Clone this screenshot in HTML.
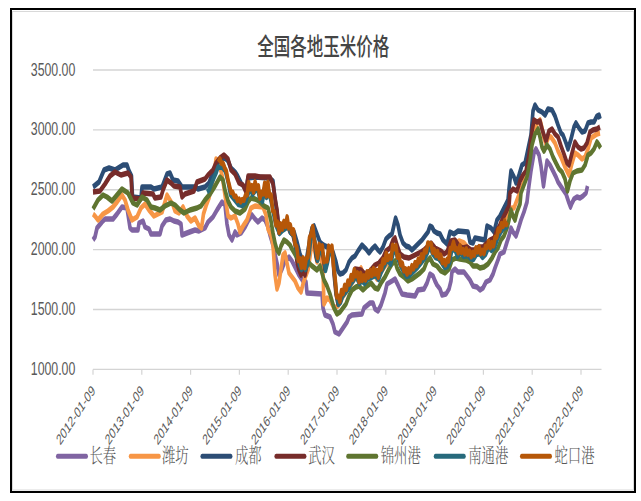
<!DOCTYPE html>
<html lang="zh-CN"><head><meta charset="utf-8"><title>全国各地玉米价格</title>
<style>
html,body{margin:0;padding:0;background:#fff;}
svg{display:block;}
text{font-family:"Liberation Sans","Noto Sans CJK SC",sans-serif;}
.lg{font-family:"Liberation Serif","Noto Serif CJK SC",serif;}
</style></head><body>
<svg width="641" height="501" viewBox="0 0 641 501">
<rect x="0" y="0" width="641" height="501" fill="#fff"/>
<rect x="12.5" y="11.5" width="621" height="478.5" fill="none" stroke="#d9d9d9" stroke-width="1"/>
<rect x="11" y="9" width="624" height="483" fill="none" stroke="#000" stroke-width="2" shape-rendering="crispEdges"/>

<line x1="93" y1="70.00" x2="601.5" y2="70.00" stroke="#d4d4d4" stroke-width="1.4"/>
<line x1="93" y1="129.88" x2="601.5" y2="129.88" stroke="#d4d4d4" stroke-width="1.4"/>
<line x1="93" y1="189.76" x2="601.5" y2="189.76" stroke="#d4d4d4" stroke-width="1.4"/>
<line x1="93" y1="249.64" x2="601.5" y2="249.64" stroke="#d4d4d4" stroke-width="1.4"/>
<line x1="93" y1="309.52" x2="601.5" y2="309.52" stroke="#d4d4d4" stroke-width="1.4"/>
<line x1="93" y1="369.40" x2="601.5" y2="369.40" stroke="#d4d4d4" stroke-width="1.4"/>
<line x1="93.00" y1="369.40" x2="93.00" y2="374.80" stroke="#d4d4d4" stroke-width="1.2"/>
<line x1="141.80" y1="369.40" x2="141.80" y2="374.80" stroke="#d4d4d4" stroke-width="1.2"/>
<line x1="190.60" y1="369.40" x2="190.60" y2="374.80" stroke="#d4d4d4" stroke-width="1.2"/>
<line x1="239.40" y1="369.40" x2="239.40" y2="374.80" stroke="#d4d4d4" stroke-width="1.2"/>
<line x1="288.20" y1="369.40" x2="288.20" y2="374.80" stroke="#d4d4d4" stroke-width="1.2"/>
<line x1="337.00" y1="369.40" x2="337.00" y2="374.80" stroke="#d4d4d4" stroke-width="1.2"/>
<line x1="385.80" y1="369.40" x2="385.80" y2="374.80" stroke="#d4d4d4" stroke-width="1.2"/>
<line x1="434.60" y1="369.40" x2="434.60" y2="374.80" stroke="#d4d4d4" stroke-width="1.2"/>
<line x1="483.40" y1="369.40" x2="483.40" y2="374.80" stroke="#d4d4d4" stroke-width="1.2"/>
<line x1="532.20" y1="369.40" x2="532.20" y2="374.80" stroke="#d4d4d4" stroke-width="1.2"/>
<line x1="581.00" y1="369.40" x2="581.00" y2="374.80" stroke="#d4d4d4" stroke-width="1.2"/>
<text transform="translate(75.3,75.60) scale(0.645,1)" font-size="19.1" text-anchor="end" fill="#595959">3500.00</text>
<text transform="translate(75.3,135.48) scale(0.645,1)" font-size="19.1" text-anchor="end" fill="#595959">3000.00</text>
<text transform="translate(75.3,195.36) scale(0.645,1)" font-size="19.1" text-anchor="end" fill="#595959">2500.00</text>
<text transform="translate(75.3,255.24) scale(0.645,1)" font-size="19.1" text-anchor="end" fill="#595959">2000.00</text>
<text transform="translate(75.3,315.12) scale(0.645,1)" font-size="19.1" text-anchor="end" fill="#595959">1500.00</text>
<text transform="translate(75.3,375.00) scale(0.645,1)" font-size="19.1" text-anchor="end" fill="#595959">1000.00</text>
<text transform="translate(95.80,391.50) scale(0.657,1) rotate(-45)" font-size="15.0" text-anchor="end" fill="#595959">2012-01-09</text>
<text transform="translate(144.60,391.50) scale(0.657,1) rotate(-45)" font-size="15.0" text-anchor="end" fill="#595959">2013-01-09</text>
<text transform="translate(193.40,391.50) scale(0.657,1) rotate(-45)" font-size="15.0" text-anchor="end" fill="#595959">2014-01-09</text>
<text transform="translate(242.20,391.50) scale(0.657,1) rotate(-45)" font-size="15.0" text-anchor="end" fill="#595959">2015-01-09</text>
<text transform="translate(291.00,391.50) scale(0.657,1) rotate(-45)" font-size="15.0" text-anchor="end" fill="#595959">2016-01-09</text>
<text transform="translate(339.80,391.50) scale(0.657,1) rotate(-45)" font-size="15.0" text-anchor="end" fill="#595959">2017-01-09</text>
<text transform="translate(388.60,391.50) scale(0.657,1) rotate(-45)" font-size="15.0" text-anchor="end" fill="#595959">2018-01-09</text>
<text transform="translate(437.40,391.50) scale(0.657,1) rotate(-45)" font-size="15.0" text-anchor="end" fill="#595959">2019-01-09</text>
<text transform="translate(486.20,391.50) scale(0.657,1) rotate(-45)" font-size="15.0" text-anchor="end" fill="#595959">2020-01-09</text>
<text transform="translate(535.00,391.50) scale(0.657,1) rotate(-45)" font-size="15.0" text-anchor="end" fill="#595959">2021-01-09</text>
<text transform="translate(583.80,391.50) scale(0.657,1) rotate(-45)" font-size="15.0" text-anchor="end" fill="#595959">2022-01-09</text>
<text transform="translate(323.2,54.7) scale(0.682,1)" font-size="24.2" font-weight="500" text-anchor="middle" fill="#454545">全国各地玉米价格</text>
<g transform="scale(0.66,1)" fill="none" stroke-width="5.5" stroke-linejoin="round" stroke-linecap="butt">
<path d="M140.9,240.0 L143.9,237.0 L147.0,228.0 L154.5,222.0 L159.1,219.0 L171.2,219.0 L177.3,214.0 L184.8,207.0 L192.4,208.0 L197.0,228.0 L200.0,230.0 L209.1,230.0 L210.6,223.0 L216.7,221.0 L219.7,227.0 L225.8,229.0 L228.8,234.0 L242.4,234.0 L245.5,226.0 L251.5,220.0 L257.6,219.0 L263.6,221.0 L269.7,222.0 L274.2,224.0 L275.8,235.0 L283.3,233.0 L295.5,230.0 L301.5,231.0 L310.6,228.0 L315.2,222.0 L322.7,217.0 L328.8,210.0 L336.4,202.0 L340.9,205.0 L343.9,224.0 L347.0,235.0 L351.5,240.0 L356.1,232.0 L359.1,235.0 L365.2,233.0 L371.2,227.0 L375.8,221.0 L381.8,215.0 L386.4,219.0 L390.9,222.0 L397.0,218.0 L401.5,220.0 L406.1,227.0 L409.1,235.0 L413.6,245.0 L416.7,254.0 L419.7,263.0 L422.7,275.0 L427.3,269.0 L431.8,261.0 L437.9,257.0 L442.4,261.0 L447.0,267.0 L453.0,275.0 L459.1,281.0 L463.6,282.0 L465.2,293.0 L487.9,294.0 L489.4,308.0 L492.4,315.0 L500.0,317.0 L504.5,324.0 L507.6,332.0 L513.6,334.0 L519.7,328.0 L525.8,322.0 L528.8,317.0 L533.3,315.0 L548.5,314.0 L551.5,308.0 L560.6,303.0 L565.2,303.0 L568.2,309.0 L572.7,311.0 L577.3,305.0 L583.3,293.0 L586.4,284.0 L593.9,281.0 L598.5,279.0 L603.0,285.0 L609.1,294.0 L616.7,295.0 L628.8,296.0 L633.3,290.0 L642.4,289.0 L647.0,283.0 L651.5,274.0 L656.1,276.0 L659.1,281.0 L662.1,285.0 L666.7,289.0 L669.7,295.0 L675.8,294.0 L680.3,289.0 L683.3,281.0 L684.8,272.0 L689.4,269.0 L693.9,272.0 L703.0,272.0 L707.6,276.0 L712.1,280.0 L716.7,286.0 L722.7,287.0 L727.3,290.0 L731.8,288.0 L736.4,282.0 L742.4,280.0 L747.0,274.0 L750.0,268.0 L754.5,260.0 L757.6,254.0 L763.6,252.0 L768.2,242.0 L771.2,236.0 L774.2,228.0 L777.3,232.0 L781.8,236.0 L784.8,230.0 L789.4,220.0 L793.9,212.0 L798.5,202.0 L800.0,193.0 L804.5,171.0 L809.1,153.0 L812.1,149.0 L816.7,155.0 L819.7,166.0 L823.5,186.0 L825.8,175.0 L828.8,161.0 L833.3,165.0 L837.9,171.0 L842.4,177.0 L845.5,182.0 L851.5,188.0 L857.6,194.0 L862.1,203.0 L864.4,207.0 L866.7,203.0 L869.7,199.0 L874.2,197.0 L878.8,198.0 L883.3,196.0 L887.9,193.0 L890.2,186.0" stroke="#8064a2"/>
<path d="M140.9,214.0 L143.9,216.0 L148.5,220.0 L156.1,214.0 L163.6,211.0 L171.2,207.0 L177.3,202.0 L184.8,195.0 L189.4,200.0 L193.9,210.0 L200.0,220.0 L207.6,217.0 L213.6,208.0 L219.7,204.0 L225.8,210.0 L233.3,216.0 L245.5,212.0 L250.0,202.0 L253.0,195.0 L257.6,200.0 L262.1,205.0 L265.2,211.0 L271.2,213.0 L277.3,207.0 L283.3,216.0 L289.4,221.0 L295.5,218.0 L301.5,226.0 L305.3,228.0 L308.3,214.0 L312.1,206.0 L316.7,198.0 L322.7,180.0 L327.3,159.0 L330.3,160.0 L336.4,175.0 L342.4,202.0 L345.5,216.0 L350.0,218.0 L356.1,216.0 L360.6,224.0 L363.6,232.0 L368.2,226.0 L374.2,220.0 L380.3,208.0 L386.4,206.0 L398.5,207.0 L403.0,215.0 L406.1,229.0 L410.6,235.0 L413.6,245.0 L415.2,261.0 L416.7,275.0 L419.7,289.0 L422.7,283.0 L425.8,269.0 L428.8,255.0 L431.8,253.0 L434.8,263.0 L437.9,273.0 L442.4,277.0 L447.0,281.0 L451.5,288.0 L456.1,292.0 L459.1,284.0 L462.1,278.0 L466.7,270.0 L471.2,250.0 L474.2,244.0 L477.3,252.0 L480.3,262.0 L483.3,256.0 L486.4,258.0 L489.4,272.0 L490.9,304.0 L495.5,298.0 L500.0,300.0 L506.1,308.0 L512.1,306.0 L518.2,298.0 L524.2,292.0 L530.3,286.0 L536.4,280.0 L542.4,272.0 L547.0,268.0 L551.5,276.0 L557.6,278.0 L563.6,276.0 L568.2,276.0 L571.2,279.0 L577.3,272.0 L583.3,266.0 L589.4,262.0 L593.9,254.0 L598.5,250.0 L603.0,258.0 L607.6,266.0 L613.6,272.0 L619.7,274.0 L625.8,270.0 L631.8,266.0 L637.9,262.0 L643.9,256.0 L648.5,250.0 L651.5,246.0 L656.1,252.0 L662.1,256.0 L668.2,260.0 L674.2,264.0 L678.8,260.0 L683.3,250.0 L689.4,244.0 L695.5,241.0 L703.0,243.0 L709.1,248.0 L715.2,254.0 L721.2,252.0 L727.3,252.0 L733.3,254.0 L739.4,246.0 L745.5,246.0 L751.5,238.0 L756.1,230.0 L759.1,222.0 L765.2,218.0 L771.2,214.0 L775.8,208.0 L778.8,208.0 L783.3,200.0 L787.9,192.0 L792.4,184.0 L797.0,176.0 L801.5,160.0 L806.1,140.0 L810.6,128.0 L815.2,122.0 L818.2,120.0 L821.2,128.0 L824.2,138.0 L827.3,144.0 L831.8,136.0 L834.8,137.0 L840.9,143.0 L845.5,151.0 L850.0,157.0 L856.1,167.0 L862.1,175.0 L866.7,163.0 L871.2,153.0 L875.8,155.0 L881.8,159.0 L886.4,157.0 L890.9,149.0 L895.5,138.0 L900.0,136.0 L904.5,134.0 L909.1,133.0" stroke="#f79646"/>
<path d="M140.9,187.0 L150.0,182.0 L157.6,170.0 L165.2,168.0 L174.2,170.0 L186.4,165.0 L192.4,165.0 L195.5,171.0 L199.2,176.0 L200.8,197.0 L213.6,198.0 L215.2,187.0 L228.8,187.0 L233.3,189.0 L245.5,187.0 L253.0,174.0 L257.6,173.0 L262.1,180.0 L269.7,181.0 L275.8,187.0 L295.5,187.0 L300.0,189.0 L310.6,187.0 L316.7,183.0 L322.7,172.0 L327.3,165.0 L333.3,160.0 L339.4,157.0 L345.5,161.0 L350.0,168.0 L356.1,172.0 L359.1,175.0 L365.2,183.0 L369.7,187.0 L372.7,190.0 L375.8,178.0 L386.4,177.0 L407.6,178.0 L413.6,181.0 L416.7,199.0 L419.7,212.0 L421.2,221.0 L424.2,229.0 L430.3,226.0 L434.8,222.0 L439.4,229.0 L445.5,232.0 L450.0,242.0 L454.5,254.0 L459.1,261.0 L463.6,262.0 L466.7,250.0 L469.7,238.0 L472.7,228.0 L475.8,226.0 L480.3,234.0 L484.8,242.0 L487.9,244.0 L492.4,246.0 L500.0,248.0 L504.5,252.0 L509.1,262.0 L512.1,271.0 L515.2,274.0 L519.7,273.0 L524.2,270.0 L528.8,262.0 L533.3,258.0 L537.9,256.0 L542.4,251.0 L548.5,245.0 L554.5,249.0 L559.1,253.0 L563.6,249.0 L568.2,246.0 L572.7,250.0 L575.8,252.0 L580.3,247.0 L584.8,239.0 L589.4,236.0 L593.9,234.0 L597.0,225.0 L599.4,218.0 L603.0,225.0 L606.1,235.0 L610.6,243.0 L615.2,246.0 L619.7,247.0 L624.2,250.0 L628.8,247.0 L634.8,243.0 L639.4,240.0 L643.9,236.0 L648.5,232.0 L651.5,226.0 L654.5,227.0 L657.6,231.0 L662.1,233.0 L666.7,234.0 L671.2,240.0 L677.3,244.0 L681.8,232.0 L687.9,234.0 L693.9,231.0 L709.1,232.0 L712.1,242.0 L716.7,243.0 L719.7,238.0 L727.3,239.0 L734.8,240.0 L737.9,226.0 L743.9,228.0 L748.5,232.0 L753.0,220.0 L757.6,216.0 L762.1,210.0 L766.7,204.0 L769.7,200.0 L771.2,189.0 L774.2,171.0 L778.8,177.0 L781.8,183.0 L786.4,175.0 L790.9,165.0 L795.5,163.0 L800.0,149.0 L804.5,135.0 L807.6,111.0 L810.6,105.0 L815.2,110.0 L821.2,112.0 L825.8,115.0 L830.3,109.0 L836.4,110.0 L840.9,116.0 L845.5,125.0 L850.0,133.0 L853.0,135.0 L857.6,143.0 L860.6,149.0 L865.2,139.0 L869.7,127.0 L872.7,123.0 L877.3,128.0 L881.8,132.0 L886.4,131.0 L890.9,123.0 L895.5,122.0 L900.0,122.0 L904.5,116.0 L907.6,115.0 L909.1,119.0" stroke="#2c4d75"/>
<path d="M140.9,192.0 L151.5,191.0 L159.1,184.0 L166.7,176.0 L174.2,172.0 L183.3,175.0 L193.9,173.0 L198.5,177.0 L200.3,198.0 L213.6,199.0 L216.7,193.0 L231.8,194.0 L234.8,198.0 L243.9,197.0 L247.0,190.0 L253.0,180.0 L259.1,183.0 L263.6,186.0 L272.7,187.0 L275.8,197.0 L280.3,194.0 L293.9,191.0 L298.5,182.0 L310.6,179.0 L315.2,175.0 L322.7,170.0 L327.3,163.0 L333.3,158.0 L339.4,155.0 L345.5,159.0 L350.0,170.0 L356.1,174.0 L362.1,183.0 L368.2,185.0 L372.7,192.0 L375.8,176.0 L386.4,176.0 L393.9,177.0 L409.1,177.0 L413.6,184.0 L416.7,198.0 L419.7,210.0 L421.2,220.0 L422.7,233.0 L427.3,230.0 L431.8,228.0 L434.8,224.0 L439.4,232.0 L443.9,235.0 L447.0,244.0 L450.0,262.0 L453.0,270.0 L456.1,275.0 L459.1,271.0 L462.1,275.0 L465.2,264.0 L468.2,250.0 L470.5,236.0 L472.7,233.0 L475.0,235.0 L476.5,242.0 L478.8,256.0 L480.3,260.0 L483.3,252.0 L486.4,248.0 L489.4,256.0 L492.4,270.0 L495.5,262.0 L498.5,252.0 L501.5,250.0 L504.5,258.0 L506.1,274.0 L509.1,294.0 L512.1,304.0 L515.2,302.0 L518.2,296.0 L522.7,292.0 L527.3,288.0 L530.3,284.0 L534.8,280.0 L537.9,269.0 L547.0,270.0 L553.0,274.0 L560.6,271.0 L568.2,265.0 L574.2,263.0 L580.3,258.0 L584.8,251.0 L590.9,248.0 L595.5,240.0 L598.5,238.0 L601.5,245.0 L606.1,254.0 L612.1,257.0 L619.7,258.0 L625.8,256.0 L631.8,254.0 L637.9,252.0 L642.4,250.0 L647.0,247.0 L653.0,243.0 L659.1,248.0 L668.2,251.0 L672.7,254.0 L677.3,252.0 L683.3,241.0 L689.4,240.0 L695.5,246.0 L701.5,248.0 L707.6,247.0 L713.6,250.0 L719.7,250.0 L725.8,247.0 L731.8,247.0 L737.9,243.0 L742.4,240.0 L748.5,238.0 L753.0,230.0 L757.6,225.0 L762.1,218.0 L766.7,212.0 L771.2,206.0 L772.7,193.0 L777.3,189.0 L783.3,191.0 L787.9,181.0 L792.4,175.0 L797.0,171.0 L801.5,155.0 L806.1,131.0 L809.1,120.0 L813.6,122.0 L818.2,121.0 L821.2,129.0 L824.2,135.0 L827.3,141.0 L831.8,131.0 L836.4,129.0 L840.9,134.0 L845.5,137.0 L850.0,146.0 L854.5,154.0 L859.1,163.0 L862.1,165.0 L866.7,153.0 L871.2,142.0 L875.8,147.0 L880.3,149.0 L884.8,148.0 L889.4,143.0 L893.9,132.0 L898.5,130.0 L904.5,129.0 L909.1,127.0" stroke="#772c2a"/>
<path d="M140.9,209.0 L148.5,200.0 L156.1,195.0 L162.1,197.0 L169.7,201.0 L177.3,195.0 L184.8,189.0 L193.9,193.0 L201.5,203.0 L207.6,205.0 L215.2,197.0 L222.7,200.0 L228.8,207.0 L234.8,208.0 L242.4,210.0 L250.0,206.0 L259.1,203.0 L265.2,205.0 L272.7,210.0 L278.8,213.0 L287.9,210.0 L298.5,208.0 L304.5,206.0 L310.6,200.0 L318.2,194.0 L325.8,186.0 L333.3,177.0 L337.9,180.0 L340.9,190.0 L345.5,201.0 L350.0,207.0 L356.1,211.0 L363.6,213.0 L371.2,209.0 L375.8,202.0 L380.3,198.0 L386.4,199.0 L392.4,201.0 L400.0,206.0 L406.1,208.0 L410.6,221.0 L413.6,233.0 L416.7,243.0 L419.7,250.0 L422.7,253.0 L425.8,246.0 L430.3,240.0 L434.8,242.0 L439.4,245.0 L442.4,249.0 L448.5,256.0 L454.5,262.0 L460.6,266.0 L466.7,262.0 L472.7,266.0 L480.3,270.0 L484.8,266.0 L490.9,280.0 L495.5,286.0 L500.0,294.0 L506.1,308.0 L510.6,314.0 L515.2,312.0 L519.7,308.0 L524.2,304.0 L528.8,296.0 L533.3,290.0 L539.4,287.0 L543.9,286.0 L550.0,290.0 L556.1,286.0 L562.1,283.0 L568.2,288.0 L572.7,289.0 L577.3,283.0 L583.3,277.0 L589.4,269.0 L593.9,264.0 L598.5,261.0 L601.5,268.0 L606.1,274.0 L612.1,277.0 L618.2,281.0 L624.2,279.0 L630.3,276.0 L636.4,273.0 L642.4,269.0 L647.0,261.0 L651.5,258.0 L656.1,264.0 L662.1,266.0 L668.2,271.0 L674.2,273.0 L680.3,269.0 L684.8,260.0 L690.9,258.0 L697.0,259.0 L706.1,260.0 L712.1,262.0 L716.7,266.0 L722.7,266.0 L727.3,268.0 L733.3,267.0 L739.4,264.0 L745.5,258.0 L750.0,252.0 L754.5,248.0 L759.1,240.0 L763.6,236.0 L768.2,228.0 L771.2,220.0 L774.2,210.0 L777.3,216.0 L780.3,220.0 L783.3,212.0 L787.9,204.0 L789.4,193.0 L793.9,185.0 L798.5,177.0 L803.0,161.0 L806.1,145.0 L810.6,134.0 L815.2,129.0 L818.2,137.0 L821.2,147.0 L824.2,151.0 L828.8,145.0 L833.3,149.0 L837.9,157.0 L842.4,163.0 L847.0,169.0 L851.5,172.0 L856.1,179.0 L859.8,191.0 L863.6,181.0 L868.2,173.0 L874.2,171.0 L881.8,170.0 L886.4,165.0 L890.9,155.0 L895.5,153.0 L900.0,149.0 L904.5,142.0 L907.6,145.0 L910.0,148.0" stroke="#5f7530"/>
<path d="M313.6,192.0 L316.7,190.0 L322.7,180.0 L327.3,173.0 L330.3,167.0 L337.1,167.5 L341.7,171.5 L346.2,183.5 L349.2,194.5 L355.3,199.5 L361.4,204.5 L367.4,205.5 L372.0,202.5 L376.5,192.5 L379.5,188.5 L382.6,194.5 L387.1,190.5 L390.2,188.5 L393.2,197.5 L397.7,201.5 L400.8,188.5 L403.8,197.5 L406.8,190.5 L409.8,198.5 L412.9,207.5 L415.9,218.5 L418.9,226.5 L423.5,233.5 L428.0,230.5 L432.6,228.5 L435.6,224.5 L440.2,232.5 L444.7,235.5 L447.7,244.5 L450.8,256.5 L453.8,264.5 L456.8,269.5 L459.8,265.5 L462.9,269.5 L465.9,264.5 L468.9,250.5 L471.2,236.5 L473.5,233.5 L475.8,235.5 L477.3,242.5 L479.5,256.5 L481.1,260.5 L484.1,252.5 L487.1,248.5 L490.2,256.5 L493.2,270.5 L496.2,262.5 L499.2,252.5 L502.3,250.5 L505.3,258.5 L506.8,274.5 L509.8,294.5 L512.9,304.5 L515.9,302.5 L518.9,296.5 L523.5,292.5 L528.0,288.5 L531.1,284.5 L535.6,280.5 L538.6,275.5 L541.7,279.5 L544.7,283.5 L547.7,280.5 L552.3,283.5 L556.8,279.5 L562.9,277.5 L568.9,275.5 L573.5,279.5 L578.0,271.5 L582.6,265.5 L587.1,259.5 L591.7,264.5 L596.2,251.5 L599.2,249.5 L602.3,257.5 L606.8,265.5 L611.4,271.5 L615.9,276.5 L620.5,275.5 L626.5,271.5 L632.6,267.5 L638.6,262.5 L643.2,258.5 L647.7,252.5 L651.4,245.5 L655.3,253.5 L659.8,257.5 L664.4,258.5 L668.9,262.5 L673.5,267.5 L678.0,266.5 L681.1,262.5 L684.1,251.5 L688.6,248.5 L693.2,256.5 L697.7,252.5 L702.3,256.5 L708.3,255.5 L712.9,258.5 L717.4,259.5 L722.0,254.5 L726.5,253.5 L731.1,257.5 L735.6,254.5 L740.2,247.5 L744.7,250.5 L749.2,247.5 L753.8,238.5 L758.3,232.5 L762.9,228.5 L768.9,226.5" stroke="#276a7c"/>
<path d="M330.8,162.2 L333.2,159.0 L335.6,163.5 L338.0,163.3 L340.5,167.8 L342.9,171.0 L345.3,179.8 L347.7,186.0 L350.2,192.6 L352.6,192.2 L355.0,196.6 L357.4,196.2 L359.8,200.6 L362.3,199.1 L364.7,201.9 L367.1,199.5 L369.5,200.3 L372.0,195.1 L374.4,195.0 L376.8,182.6 L379.2,188.9 L381.7,185.7 L384.1,192.0 L386.5,181.9 L388.9,188.3 L391.4,185.8 L393.8,198.2 L396.2,192.3 L398.6,193.9 L401.1,183.1 L403.5,195.9 L405.9,182.3 L408.3,196.0 L410.8,195.0 L413.2,210.9 L415.6,211.8 L418.0,225.0 L420.5,222.1 L422.9,232.3 L425.3,223.9 L427.7,229.2 L430.2,221.3 L432.6,226.4 L435.0,216.9 L437.4,227.9 L439.8,224.9 L442.3,233.3 L444.7,229.9 L447.1,244.0 L449.5,246.8 L452.0,260.6 L454.4,258.9 L456.8,267.4 L459.2,257.8 L461.7,267.8 L464.1,258.3 L466.5,257.1 L468.9,237.9 L471.4,234.2 L473.8,226.5 L476.2,240.0 L478.6,247.7 L481.1,257.4 L483.5,244.4 L485.9,248.0 L488.3,245.8 L490.8,261.7 L493.2,260.6 L495.6,260.9 L498.0,246.1 L500.5,250.1 L502.9,246.2 L505.3,265.4 L507.7,277.6 L510.2,296.9 L512.6,296.3 L515.0,301.5 L517.4,290.5 L519.8,293.5 L522.3,285.4 L524.7,289.3 L527.1,281.1 L529.5,284.0 L532.0,275.5 L534.4,279.4 L536.8,269.7 L539.2,275.8 L541.7,273.0 L544.1,281.8 L546.5,273.4 L548.9,280.3 L551.4,275.9 L553.8,280.0 L556.2,271.9 L558.6,277.1 L561.1,270.3 L563.5,275.5 L565.9,268.7 L568.3,274.1 L570.8,270.3 L573.2,277.2 L575.6,266.9 L578.0,269.0 L580.5,259.8 L582.9,262.6 L585.3,253.4 L587.7,259.5 L590.2,256.2 L592.6,258.2 L595.0,245.3 L597.4,248.7 L599.8,245.6 L602.3,257.3 L604.7,255.6 L607.1,264.8 L609.5,263.2 L612.0,270.9 L614.4,268.8 L616.8,274.0 L619.2,268.7 L621.7,272.1 L624.1,265.7 L626.5,268.9 L628.9,262.5 L631.4,265.7 L633.8,259.0 L636.2,261.8 L638.6,254.9 L641.1,257.6 L643.5,250.2 L645.9,251.8 L648.3,243.0 L650.8,243.7 L653.2,243.8 L655.6,252.3 L658.0,249.7 L660.5,255.7 L662.9,251.4 L665.3,257.9 L667.7,255.2 L670.2,262.6 L672.6,260.4 L675.0,264.9 L677.4,259.4 L679.8,261.0 L682.3,248.4 L684.7,248.5 L687.1,242.1 L689.5,249.3 L692.0,248.8 L694.4,252.7 L696.8,245.7 L699.2,252.4 L701.7,249.6 L704.1,254.0 L706.5,248.8 L708.9,254.3 L711.4,251.1 L713.8,256.8 L716.2,252.5 L718.6,255.2 L721.1,247.8 L723.5,251.9 L725.9,246.7 L728.3,253.7 L730.8,250.3 L733.2,253.5 L735.6,246.4 L738.0,247.5 L740.5,241.3 L742.9,247.7 L745.3,242.7 L747.7,245.9 L750.2,237.3 L752.6,237.3 L755.0,229.0 L757.4,230.6 L759.8,223.6 L762.3,226.3 L764.7,220.7 L767.1,224.7 L768.2,222.0" stroke="#b65708"/>
</g>
<line transform="scale(0.66,1)" x1="87.3" y1="456.2" x2="130.8" y2="456.2" stroke="#8064a2" stroke-width="5" stroke-linecap="round"/>
<text class="lg" transform="translate(89.5,463.1) scale(0.672,1)" font-size="19.9" font-weight="300" fill="#595959">长春</text>
<line transform="scale(0.66,1)" x1="197.6" y1="456.2" x2="241.1" y2="456.2" stroke="#f79646" stroke-width="5" stroke-linecap="round"/>
<text class="lg" transform="translate(162.0,463.1) scale(0.672,1)" font-size="19.9" font-weight="300" fill="#595959">潍坊</text>
<line transform="scale(0.66,1)" x1="306.2" y1="456.2" x2="349.7" y2="456.2" stroke="#2c4d75" stroke-width="5" stroke-linecap="round"/>
<text class="lg" transform="translate(235.0,463.1) scale(0.672,1)" font-size="19.9" font-weight="300" fill="#595959">成都</text>
<line transform="scale(0.66,1)" x1="418.3" y1="456.2" x2="461.8" y2="456.2" stroke="#772c2a" stroke-width="5" stroke-linecap="round"/>
<text class="lg" transform="translate(308.2,463.1) scale(0.672,1)" font-size="19.9" font-weight="300" fill="#595959">武汉</text>
<line transform="scale(0.66,1)" x1="527.1" y1="456.2" x2="570.6" y2="456.2" stroke="#5f7530" stroke-width="5" stroke-linecap="round"/>
<text class="lg" transform="translate(380.7,463.1) scale(0.672,1)" font-size="19.9" font-weight="300" fill="#595959">锦州港</text>
<line transform="scale(0.66,1)" x1="659.7" y1="456.2" x2="703.2" y2="456.2" stroke="#276a7c" stroke-width="5" stroke-linecap="round"/>
<text class="lg" transform="translate(468.2,463.1) scale(0.672,1)" font-size="19.9" font-weight="300" fill="#595959">南通港</text>
<line transform="scale(0.66,1)" x1="790.3" y1="456.2" x2="833.8" y2="456.2" stroke="#b65708" stroke-width="5" stroke-linecap="round"/>
<text class="lg" transform="translate(554.5,463.1) scale(0.672,1)" font-size="19.9" font-weight="300" fill="#595959">蛇口港</text>
</svg></body></html>
